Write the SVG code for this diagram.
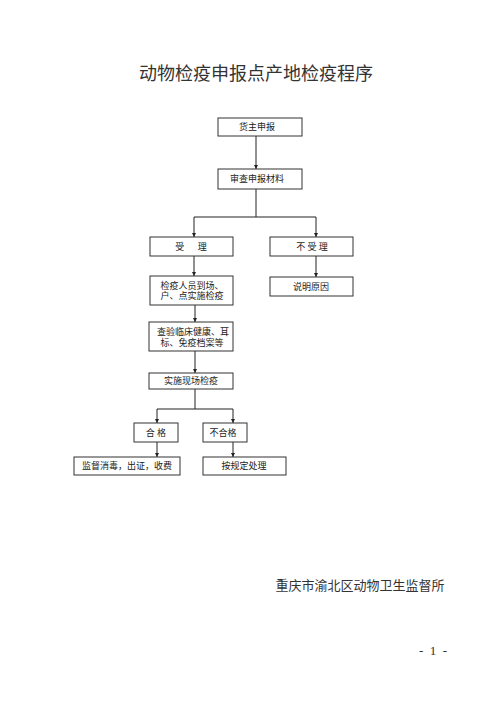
<svg xmlns="http://www.w3.org/2000/svg" width="500" height="707" viewBox="0 0 500 707">
<style>
.box{fill:#fff;stroke:#333;stroke-width:1}
.t{font-family:"Liberation Serif","Noto Sans CJK SC",serif;font-size:9px;fill:#222;text-anchor:middle;dominant-baseline:central}
.ln{fill:none;stroke:#222;stroke-width:1}
</style>
<defs>
<marker id="ah" viewBox="0 0 6 6" refX="6" refY="3" markerWidth="4" markerHeight="4" orient="auto" markerUnits="userSpaceOnUse">
<path d="M0,0 L6,3 L0,6 z" fill="#222"/>
</marker>
</defs>
<rect width="500" height="707" fill="#fff"/>
<text x="256" y="72" style="font-family:'Noto Sans CJK SC',sans-serif;font-size:18px;fill:#333;text-anchor:middle;dominant-baseline:central">动物检疫申报点产地检疫程序</text>
<g id="connectors">
<path class="ln" d="M256,136 V169" marker-end="url(#ah)"/>
<path class="ln" d="M256,189 V217 H194 V237" marker-end="url(#ah)"/>
<path class="ln" d="M256,217 H316 V237" marker-end="url(#ah)"/>
<path class="ln" d="M194,256 V276" marker-end="url(#ah)"/>
<path class="ln" d="M316,256 V277" marker-end="url(#ah)"/>
<path class="ln" d="M195,305 V322" marker-end="url(#ah)"/>
<path class="ln" d="M195,351 V373" marker-end="url(#ah)"/>
<path class="ln" d="M195,389 V409 H157 V423" marker-end="url(#ah)"/>
<path class="ln" d="M195,409 H233 V423" marker-end="url(#ah)"/>
<path class="ln" d="M157,442 V457" marker-end="url(#ah)"/>
<path class="ln" d="M233,442 V457" marker-end="url(#ah)"/>
</g>
<g id="n1"><rect class="box" x="218" y="118" width="84" height="18"/><text class="t" x="257" y="127">货主申报</text></g>
<g id="n2"><rect class="box" x="218" y="169" width="84" height="20"/><text class="t" x="257" y="179">审查申报材料</text></g>
<g id="n3"><rect class="box" x="150" y="237" width="83" height="19"/><text class="t" x="191" y="246.5" xml:space="preserve">受      理</text></g>
<g id="n4"><rect class="box" x="270" y="237" width="83" height="19"/><text class="t" x="312" y="246.5" xml:space="preserve">不 受 理</text></g>
<g id="n5"><rect class="box" x="270" y="277" width="83" height="19"/><text class="t" x="311" y="286.5">说明原因</text></g>
<g id="n6"><rect class="box" x="150" y="276" width="83" height="29"/><text class="t" x="192" y="285.5">检疫人员到场、</text><text class="t" x="192" y="296">户、点实施检疫</text></g>
<g id="n7"><rect class="box" x="149" y="322" width="84" height="29"/><text class="t" x="193" y="332">查验临床健康、耳</text><text class="t" x="192" y="343">标、免疫档案等</text></g>
<g id="n8"><rect class="box" x="149" y="373" width="84" height="16"/><text class="t" x="191" y="381">实施现场检疫</text></g>
<g id="n9"><rect class="box" x="134" y="423" width="44" height="19"/><text class="t" x="156" y="432.5" xml:space="preserve">合 格</text></g>
<g id="n10"><rect class="box" x="203" y="423" width="44" height="19"/><text class="t" x="223" y="432.5">不合格</text></g>
<g id="n11"><rect class="box" x="74" y="457" width="106" height="18"/><text class="t" x="127" y="466">监督消毒，出证，收费</text></g>
<g id="n12"><rect class="box" x="203" y="457" width="83" height="18"/><text class="t" x="244" y="466">按规定处理</text></g>
<text x="360" y="585" style="font-family:'Liberation Serif','Noto Sans CJK SC',serif;font-size:13px;fill:#333;text-anchor:middle;dominant-baseline:central">重庆市渝北区动物卫生监督所</text>
<text x="433" y="650" style="font-family:'Liberation Serif','Noto Sans CJK SC',serif;font-size:13px;fill:#333;text-anchor:middle;dominant-baseline:central" xml:space="preserve">-  1  -</text>
</svg>
